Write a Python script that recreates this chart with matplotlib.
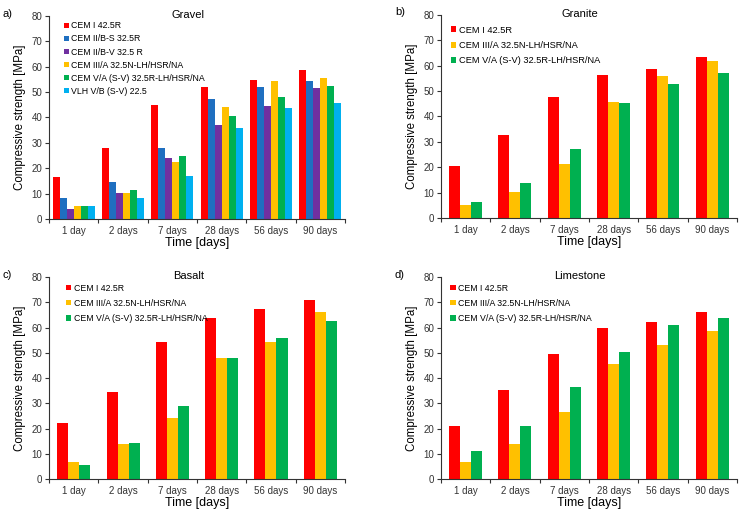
import matplotlib.pyplot as plt
import numpy as np

plt.rcParams['font.family'] = ['Liberation Sans', 'DejaVu Sans']

days = ['1 day', '2 days', '7 days', '28 days', '56 days', '90 days']

# Gravel
gravel_names = ['CEM I 42.5R', 'CEM II/B-S 32.5R', 'CEM II/B-V 32.5 R',
                'CEM III/A 32.5N-LH/HSR/NA', 'CEM V/A (S-V) 32.5R-LH/HSR/NA',
                'VLH V/B (S-V) 22.5']
gravel_cem1 = [16.5, 28.0, 45.0, 52.0, 54.7, 58.8]
gravel_cem2s = [8.3, 14.6, 28.1, 47.1, 52.1, 54.2]
gravel_cem2v = [3.8, 10.3, 24.1, 37.1, 44.7, 51.6]
gravel_cem3 = [5.1, 10.2, 22.3, 44.3, 54.4, 55.7]
gravel_cem5 = [5.3, 11.5, 24.8, 40.4, 48.1, 52.5]
gravel_vlh = [5.1, 8.1, 17.0, 35.9, 43.6, 45.5]
gravel_colors = ['#ff0000', '#1f6fc0', '#7030a0', '#ffc000', '#00b050', '#00b0f0']

# the other three aggregates use three cements
three_names = ['CEM I 42.5R', 'CEM III/A 32.5N-LH/HSR/NA', 'CEM V/A (S-V) 32.5R-LH/HSR/NA']
three_colors = ['#ff0000', '#ffc000', '#00b050']

granite_cem1 = [20.4, 32.7, 47.8, 56.2, 58.6, 63.4]
granite_cem3 = [5.2, 10.2, 21.1, 45.7, 56.1, 61.9]
granite_cem5 = [6.3, 13.7, 27.2, 45.1, 52.7, 57.1]

basalt_cem1 = [22.2, 34.5, 54.3, 63.6, 67.2, 70.9]
basalt_cem3 = [6.6, 13.7, 24.1, 47.9, 54.1, 66.2]
basalt_cem5 = [5.6, 14.3, 28.9, 48.0, 55.8, 62.5]

lime_cem1 = [21.1, 35.3, 49.7, 59.9, 62.3, 66.1]
lime_cem3 = [6.6, 14.0, 26.4, 45.5, 52.9, 58.7]
lime_cem5 = [11.1, 20.9, 36.4, 50.5, 61.2, 63.8]

fig = plt.figure(figsize=(7.45, 5.14), dpi=100)

# letter, title, axes rect, series, names, colours, group fill, legend anchor, legend font, legend spacing
panels = [
    ('a)', 'Gravel', [0.066, 0.574, 0.397, 0.395],
     [gravel_cem1, gravel_cem2s, gravel_cem2v, gravel_cem3, gravel_cem5, gravel_vlh],
     gravel_names, gravel_colors, 0.85, (0.037, 0.99), 6.3, 0.46),
    ('b)', 'Granite', [0.592, 0.576, 0.397, 0.395],
     [granite_cem1, granite_cem3, granite_cem5], three_names, three_colors, 0.67,
     (0.02, 0.965), 6.7, 0.67),
    ('c)', 'Basalt', [0.066, 0.068, 0.397, 0.393],
     [basalt_cem1, basalt_cem3, basalt_cem5], three_names, three_colors, 0.67,
     (0.044, 0.985), 6.3, 0.71),
    ('d)', 'Limestone', [0.592, 0.068, 0.397, 0.393],
     [lime_cem1, lime_cem3, lime_cem5], three_names, three_colors, 0.67,
     (0.02, 0.985), 6.3, 0.71),
]

x = np.arange(len(days))
for letter, title, pos, series, names, colors, fill, anchor, lfs, lsp in panels:
    ax = fig.add_axes(pos)
    n = len(series)
    w = fill / n
    for i in range(n):
        off = -fill / 2 + w * (i + 0.5)
        ax.bar(x + off, series[i], w, color=colors[i], label=names[i])
    ax.set_xlim(-0.5, len(days) - 0.5)
    ax.set_ylim(0, 80)
    ax.set_yticks(range(0, 81, 10))
    ax.set_xticks(x)
    ax.set_xticklabels(days)
    ax.set_xticks(np.arange(-0.5, len(days)), minor=True)
    ax.tick_params(axis='x', which='major', length=0, labelsize=7, pad=5, colors='#333333')
    ax.tick_params(axis='x', which='minor', length=3, width=0.8, color='#333333')
    ax.tick_params(axis='y', length=3, width=0.8, labelsize=7, pad=2, colors='#333333')
    for s in ['top', 'right']:
        ax.spines[s].set_visible(False)
    for s in ['left', 'bottom']:
        ax.spines[s].set_linewidth(0.8)
        ax.spines[s].set_color('#333333')
    ax.set_ylabel('Compressive strength [MPa]', fontsize=8.3, labelpad=4)
    ax.set_xlabel('Time [days]', fontsize=9, labelpad=1)
    ax.text(0.47, 1.005, title, transform=ax.transAxes, ha='center', va='center', fontsize=8)
    ax.legend(loc='upper left', bbox_to_anchor=anchor, frameon=False, fontsize=lfs,
              handlelength=0.6, handleheight=0.6, handletextpad=0.3, labelspacing=lsp,
              borderaxespad=0)
    fig.text(pos[0] - 0.062, pos[1] + pos[3] - 0.005, letter, fontsize=8, va='bottom')

fig.savefig('out.png', dpi=100)
